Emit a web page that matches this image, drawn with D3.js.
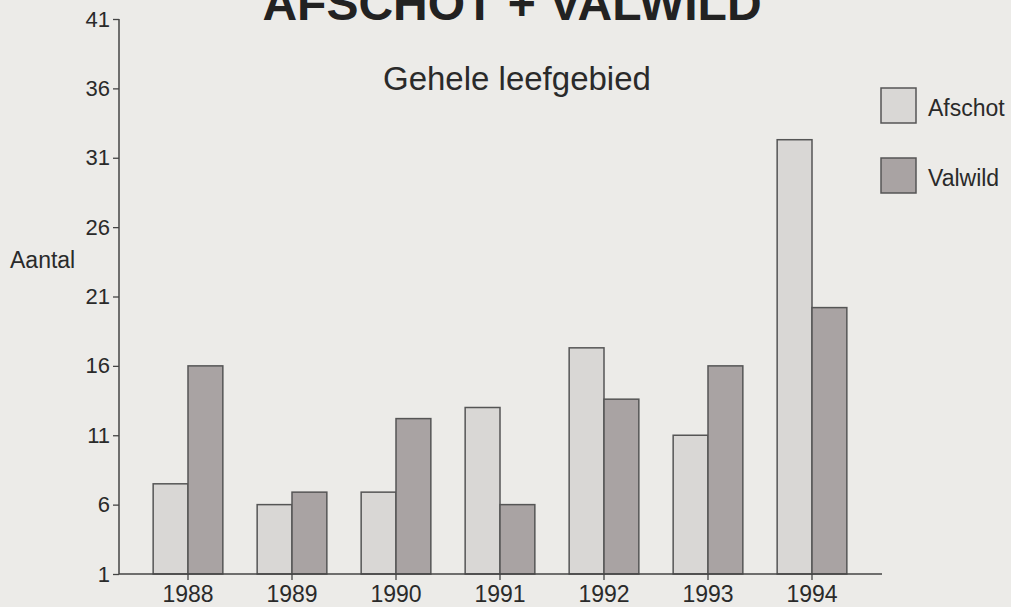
<!DOCTYPE html>
<html>
<head>
<meta charset="UTF-8">
<title>Afschot + Valwild</title>
<style>
  body { margin: 0; background: #ecebe8; }
  svg { display: block; font-family: "Liberation Sans", Arial, sans-serif; }
</style>
</head>
<body>
<svg id="chart"></svg>
<script src="https://cdn.jsdelivr.net/npm/d3@7/dist/d3.min.js"></script>
<script>
var years = ["1988", "1989", "1990", "1991", "1992", "1993", "1994"];
var afschot = [7.5, 6, 6.9, 13, 17.3, 11, 32.3];
var valwild = [16, 6.9, 12.2, 6, 13.6, 16, 20.2];
var yTicks = [1, 6, 11, 16, 21, 26, 31, 36, 41];
var seriesNames = ["Afschot", "Valwild"];
var seriesColors = ["#d9d7d5", "#a9a3a3"];

var width = 1011, height = 607;
var svg = d3.select("#chart").attr("width", width).attr("height", height);

var y = d3.scaleLinear().domain([1, 41]).range([574, 19]);
var x = d3.scaleBand().domain(years).range([136, 864])
  .paddingInner(0.33).paddingOuter(0.165);
var xs = d3.scaleBand().domain(seriesNames).range([0, x.bandwidth()]);

// bars
var rows = years.map(function(yr, i) {
  return { year: yr, values: [afschot[i], valwild[i]] };
});
var g = svg.append("g");
rows.forEach(function(r) {
  g.selectAll(null).data(r.values).enter().append("rect")
    .attr("x", function(d, j) { return x(r.year) + xs(seriesNames[j]); })
    .attr("y", function(d) { return y(d); })
    .attr("width", xs.bandwidth())
    .attr("height", function(d) { return y(1) - y(d); })
    .attr("fill", function(d, j) { return seriesColors[j]; })
    .attr("stroke", "#555")
    .attr("stroke-width", 1.5);
});

// y axis
var yAxis = svg.append("g")
  .attr("transform", "translate(119,0)")
  .call(d3.axisLeft(y).tickValues(yTicks).tickSize(6).tickPadding(3));
yAxis.select(".domain").attr("stroke", "#444").attr("stroke-width", 1.5).attr("d", "M0," + y(41) + "V" + y(1));
yAxis.selectAll(".tick line").attr("stroke", "#444").attr("stroke-width", 1.3);
yAxis.selectAll(".tick text").attr("fill", "#2a2a2a").style("font-size", "22px")
  .style("font-family", "Liberation Sans, Arial, sans-serif");

// x axis
var xAxis = svg.append("g")
  .attr("transform", "translate(0," + y(1) + ")")
  .call(d3.axisBottom(x).tickSize(6).tickPadding(6));
xAxis.select(".domain").attr("stroke", "#444").attr("stroke-width", 1.5).attr("d", "M119,0H882");
xAxis.selectAll(".tick line").attr("stroke", "#444").attr("stroke-width", 1.3);
xAxis.selectAll(".tick text").attr("fill", "#2a2a2a").style("font-size", "23px")
  .style("font-family", "Liberation Sans, Arial, sans-serif");

// titles
svg.append("text").attr("x", 512).attr("y", 20).attr("text-anchor", "middle")
  .style("font-size", "48px").style("font-weight", "bold").attr("fill", "#222")
  .text("AFSCHOT + VALWILD");
svg.append("text").attr("x", 383).attr("y", 90)
  .style("font-size", "33px").attr("fill", "#2a2a2a")
  .text("Gehele leefgebied");
svg.append("text").attr("x", 10).attr("y", 268)
  .style("font-size", "23px").attr("fill", "#2a2a2a")
  .text("Aantal");

// legend
var legend = svg.append("g").selectAll("g").data(seriesNames).enter().append("g")
  .attr("transform", function(d, i) { return "translate(881," + (88 + i * 70) + ")"; });
legend.append("rect").attr("width", 35).attr("height", 35)
  .attr("fill", function(d, i) { return seriesColors[i]; })
  .attr("stroke", "#555").attr("stroke-width", 1.5);
legend.append("text").attr("x", 47).attr("y", 28)
  .style("font-size", "23px").attr("fill", "#2a2a2a")
  .text(function(d) { return d; });
</script>
</body>
</html>
